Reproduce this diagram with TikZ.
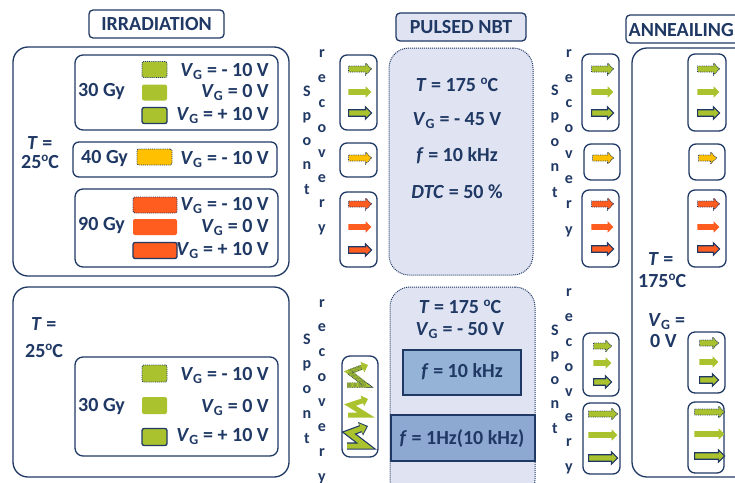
\documentclass[tikz,border=0pt]{standalone}
\usepackage{fontspec}
\setmainfont{Carlito}
\usetikzlibrary{shapes.arrows,fit,arrows.meta}
\definecolor{navy}{RGB}{31,56,100}
\definecolor{lime}{RGB}{170,194,46}
\definecolor{amber}{RGB}{255,192,0}
\definecolor{tang}{RGB}{255,92,32}
\definecolor{lav}{RGB}{224,228,242}
\definecolor{fboxa}{RGB}{149,179,215}
\definecolor{fboxb}{RGB}{141,169,209}
\newcommand\vg{\textit{V}\textsubscript{G}}
\newcommand\dg{\raisebox{0.31em}{\fontsize{13}{13}\selectfont o}C}
\begin{document}
\begin{tikzpicture}[x=1pt,y=-1pt,
  every node/.style={text=navy, inner sep=0pt, font=\bfseries\fontsize{20}{24}\selectfont},
  frame/.style={draw=navy, line width=1.3pt, rounded corners=#1},
  frame/.default=8pt,
  hdr/.style={draw=navy, line width=1.3pt, rounded corners=4pt},
  pulse/.style={draw=navy, fill=lav, densely dotted, line width=1pt, rounded corners=20pt},
  sq/.style={minimum width=25pt, minimum height=16pt, rounded corners=2pt, fill=#1},
  sqdot/.style={sq=#1, draw=navy, densely dotted, line width=0.9pt},
  sqsol/.style={sq=#1},
  sqlin/.style={sq=#1, draw=navy, line width=1.3pt},
  arr/.style={single arrow, single arrow head extend=2.9pt, single arrow head indent=0pt,
              inner sep=2.6pt, minimum height=#1},
  adot/.style={fill=#1, draw=navy, densely dotted, line width=0.8pt},
  asol/.style={fill=#1},
  alin/.style={fill=#1, draw=navy, line width=1.2pt},
  sp/.style={font=\bfseries\fontsize{16}{20}\selectfont, anchor=base},
  zzbody/.style={draw=#1, line width=5pt, line join=miter, -{Triangle[width=11pt,length=6pt]}},
  zzedge/.style={draw=navy, line width=7.4pt, line join=miter, -{Triangle[width=14pt,length=8pt]}},
  zzdots/.style={draw=navy, densely dotted, line width=0.7pt, double=#1, double distance=3.6pt}
]
\useasboundingbox (0,0) rectangle (735,482);
\clip (0,0) rectangle (735,482);

% ---------------- irradiation ----------------
\node[hdr, minimum width=135pt, minimum height=28pt] (irr) at (156.5,24) {IRRADIATION};

\node[frame=15pt, fit={(13,47) (289,276)}] (irrA) {};
\node[anchor=base west] (tA) at (27,149) {\textit{T} =};
\node[anchor=base west] (tAv) at (21,168) {25\dg};

\node[frame, fit={(75,55) (278,130)}] (g30a) {};
\node[anchor=base west] (g30at) at (78,96) {30 Gy};
\node[sqdot=lime] (s30a1) at (154.5,69.5) {};
\node[sqsol=lime] (s30a2) at (154.5,92.5) {};
\node[sqlin=lime] (s30a3) at (154.5,115.5) {};
\node[anchor=base east] (v30a1) at (269,76) {\vg{} = - 10 V};
\node[anchor=base east] (v30a2) at (269,97) {\vg{} = 0 V};
\node[anchor=base east] (v30a3) at (269,120) {\vg{} = + 10 V};

\node[frame=6pt, fit={(73,142) (277,177)}] (g40) {};
\node[anchor=base west] (g40t) at (81,163) {40 Gy};
\node[sqdot=amber, minimum width=35pt] (s40) at (154.5,157) {};
\node[anchor=base east] (v40) at (269,164) {\vg{} = - 10 V};

\node[frame, fit={(75,189) (278,267)}] (g90) {};
\node[anchor=base west] (g90t) at (78,230) {90 Gy};
\node[sqdot=tang, minimum width=44pt] (s90a) at (155,205) {};
\node[sqsol=tang, minimum width=44pt] (s90b) at (155,227) {};
\node[sqlin=tang, minimum width=44pt] (s90c) at (155,250.5) {};
\node[anchor=base east] (v90a) at (269,210) {\vg{} = - 10 V};
\node[anchor=base east] (v90b) at (269,232) {\vg{} = 0 V};
\node[anchor=base east] (v90c) at (269,255) {\vg{} = + 10 V};

\node[frame=15pt, fit={(13,287) (289,477)}] (irrB) {};
\node[anchor=base west] (tB) at (31,330) {\textit{T} =};
\node[anchor=base west] (tBv) at (25,357) {25\dg};
\node[frame, fit={(75,357) (278,456)}] (g30b) {};
\node[anchor=base west] (g30bt) at (78,411) {30 Gy};
\node[sqdot=lime, minimum height=17pt] (s30b1) at (154.5,373.5) {};
\node[sqsol=lime, minimum height=17pt] (s30b2) at (154.5,405.5) {};
\node[sqlin=lime, minimum height=17pt] (s30b3) at (154.5,437) {};
\node[anchor=base east] (v30b1) at (269,380) {\vg{} = - 10 V};
\node[anchor=base east] (v30b2) at (269,412) {\vg{} = 0 V};
\node[anchor=base east] (v30b3) at (269,441) {\vg{} = + 10 V};

% ---------------- spontaneous recovery, first column ----------------
\foreach \c [count=\i] in {S,p,o,n,t}
  \node[sp] (spA\i) at (307,{96+24.5*(\i-1)}) {\c};
\foreach \c [count=\i] in {r,e,c,o,v,e,r,y}
  \node[sp] (rcA\i) at (322,{57+25*(\i-1)}) {\c};

\node[frame=7pt, fit={(340,55) (377,130)}] (ma1) {};
\node[arr=23pt, adot=lime] (ma1a) at (358.5,69) {};
\node[arr=23pt, asol=lime] (ma1b) at (358.5,92) {};
\node[arr=23pt, alin=lime] (ma1c) at (358.5,113) {};
\node[frame=7pt, fit={(340,143) (377,177)}] (ma2) {};
\node[arr=23pt, adot=amber] (ma2a) at (358.5,158) {};
\node[frame=7pt, fit={(340,192) (377,267)}] (ma3) {};
\node[arr=23pt, adot=tang] (ma3a) at (358.5,204) {};
\node[arr=23pt, asol=tang] (ma3b) at (358.5,227) {};
\node[arr=23pt, alin=tang] (ma3c) at (358.5,250) {};

\foreach \c [count=\i] in {S,p,o,n,t}
  \node[sp] (spB\i) at (307,{344+24.75*(\i-1)}) {\c};
\foreach \c [count=\i] in {r,e,c,o,v,e,r,y}
  \node[sp] (rcB\i) at (322,{307+24.9*(\i-1)}) {\c};

\node[frame=8pt, fit={(342,356) (378,457)}] (mz) {};
% zigzag arrows
\draw[zzbody=lime] (347,385) -- (366,385) -- (349,372) -- (368,365);
\draw[zzdots=lime] (347,385) -- (366,385) -- (349,372) -- (362,367);
\draw[zzbody=lime] (348,415) -- (366,415) -- (350,405) -- (368,399);
\draw[zzedge] (347,446) -- (366,446) -- (349,433) -- (368,426);
\draw[zzbody=lime, shorten >=1.6pt] (347,446) -- (366,446) -- (349,433) -- (368,426);

% ---------------- pulsed NBT ----------------
\node[hdr, fill=lav, minimum width=130pt, minimum height=28pt] (nbt) at (461,27) {PULSED NBT};

\node[pulse, fit={(389,48) (533,275)}] (nbtA) {};
\node[anchor=base] (nA1) at (457,91) {\textit{T} = 175 \dg};
\node[anchor=base] (nA2) at (457,125) {\vg{} = - 45 V};
\node[anchor=base] (nA3) at (457,161) {\textit{f} = 10 kHz};
\node[anchor=base] (nA4) at (457,198) {\textit{DTC} = 50 \%};

\node[pulse, fit={(390,287) (535,500)}] (nbtB) {};
\node[anchor=base] (nB1) at (460,313) {\textit{T} = 175 \dg};
\node[anchor=base] (nB2) at (460,335) {\vg{} = - 50 V};
\node[draw=navy, fill=fboxa, line width=1.3pt, fit={(403,350) (521,395)}] (fa) {};
\node[anchor=base] (fat) at (462,377) {\textit{f} = 10 kHz};
\node[draw=navy, fill=fboxb, line width=1.3pt, fit={(391,415) (535,461)}] (fb) {};
\node[anchor=base] (fbt) at (462,444) {\textit{f} = 1Hz(10 kHz)};

% ---------------- spontaneous recovery, second column ----------------
\foreach \c [count=\i] in {S,p,o,n,t}
  \node[sp] (spC\i) at (555,{95+25.5*(\i-1)}) {\c};
\foreach \c [count=\i] in {r,e,c,o,v,e,r,y}
  \node[sp] (rcC\i) at (569,{57+25.3*(\i-1)}) {\c};

\node[frame=7pt, fit={(582,54) (619,131)}] (ra1) {};
\node[arr=22pt, adot=lime] (ra1a) at (601,69) {};
\node[arr=22pt, asol=lime] (ra1b) at (601,92) {};
\node[arr=22pt, alin=lime] (ra1c) at (601,113) {};
\node[frame=7pt, fit={(584,144) (620,180)}] (ra2) {};
\node[arr=21pt, adot=amber] (ra2a) at (601.5,158) {};
\node[frame=7pt, fit={(582,190) (619,267)}] (ra3) {};
\node[arr=22pt, adot=tang] (ra3a) at (601,204) {};
\node[arr=22pt, asol=tang] (ra3b) at (601,227) {};
\node[arr=22pt, alin=tang] (ra3c) at (601,249) {};

\foreach \c [count=\i] in {S,p,o,n,t}
  \node[sp] (spD\i) at (555,{335+24.5*(\i-1)}) {\c};
\foreach \c [count=\i] in {r,e,c,o,v,e,r,y}
  \node[sp] (rcD\i) at (569,{296+25*(\i-1)}) {\c};

\node[frame=7pt, fit={(583,333) (619,396)}] (rb1) {};
\node[arr=18pt, adot=lime] (rb1a) at (601,346) {};
\node[arr=18pt, asol=lime] (rb1b) at (601,363) {};
\node[arr=18pt, alin=lime] (rb1c) at (601,382) {};
\node[frame=7pt, fit={(583,403) (620,474)}] (rb2) {};
\node[arr=29pt, adot=lime] (rb2a) at (601.5,414) {};
\node[arr=29pt, asol=lime] (rb2b) at (601.5,435) {};
\node[arr=29pt, alin=lime] (rb2c) at (601.5,458) {};

% ---------------- annealing ----------------
\node[hdr, fit={(626,15) (760,43)}] (ann) {};
\node[anchor=base west] (annt) at (628.5,36) {ANNEAILING};

\node[frame=15pt, fit={(632,48) (760,477)}] (annA) {};
\node[anchor=base west] (aT1) at (648,265) {\textit{T} =};
\node[anchor=base west] (aT2) at (638,287) {175\dg};
\node[anchor=base west] (aV1) at (648,326) {\vg{} =};
\node[anchor=base west] (aV2) at (650,347) {0 V};

\node[frame=7pt, fit={(688,54) (726,131)}] (aa1) {};
\node[arr=22pt, adot=lime] (aa1a) at (707,69) {};
\node[arr=22pt, asol=lime] (aa1b) at (707,92) {};
\node[arr=22pt, alin=lime] (aa1c) at (707,113) {};
\node[frame=7pt, fit={(689,144) (725,180)}] (aa2) {};
\node[arr=18pt, adot=amber] (aa2a) at (706,158) {};
\node[frame=7pt, fit={(688,190) (726,267)}] (aa3) {};
\node[arr=22pt, adot=tang] (aa3a) at (707,204) {};
\node[arr=22pt, asol=tang] (aa3b) at (707,227) {};
\node[arr=22pt, alin=tang] (aa3c) at (707,249) {};

\node[frame=7pt, fit={(688,332) (725,393)}] (ab1) {};
\node[arr=19pt, adot=lime] (ab1a) at (707.5,343) {};
\node[arr=19pt, asol=lime] (ab1b) at (707.5,362) {};
\node[arr=19pt, alin=lime] (ab1c) at (707.5,380) {};
\node[frame=7pt, fit={(688,402) (724,473)}] (ab2) {};
\node[arr=30pt, adot=lime] (ab2a) at (708,412) {};
\node[arr=30pt, asol=lime] (ab2b) at (708,434) {};
\node[arr=30pt, alin=lime] (ab2c) at (708,456) {};
\end{tikzpicture}
\end{document}
